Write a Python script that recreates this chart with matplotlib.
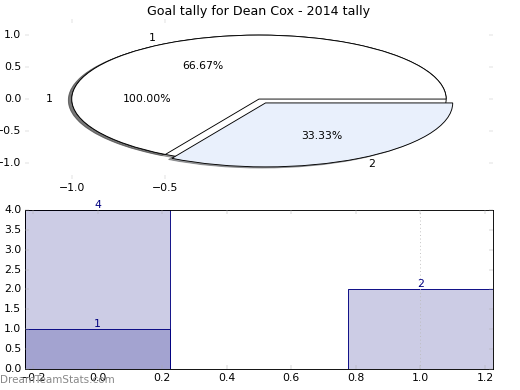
import matplotlib
matplotlib.use('Agg')
import matplotlib.pyplot as plt

plt.style.use('classic')

# Pie data
total_values = [1]
total_labels = ['1']
split_values = [2, 1]
split_labels = ['1', '2']
split_explode = [0, 0.07]

# Bar data
bar_x = [0, 1]
bar_heights = [4, 2]
bar_inner_x = [0]
bar_inner_heights = [1]

title = 'Goal tally for Dean Cox - 2014 tally'

fig = plt.figure(figsize=(8, 6), dpi=65)
fig.patch.set_facecolor('white')

# Top: pie chart (not square, like old matplotlib)
ax1 = fig.add_axes([0.048, 0.541, 0.9, 0.41])
ax1.pie(total_values, labels=total_labels, autopct='%.2f%%', shadow=True,
        colors=['white'])
ax1.pie(split_values, labels=split_labels, autopct='%.2f%%', shadow=True,
        explode=split_explode, colors=['white', '#e9f0fc'])
ax1.set_aspect('auto')
ax1.set_xlim(-1.25, 1.25)
ax1.set_ylim(-1.25, 1.25)
ax1.set_frame_on(False)
ax1.set_xticks([-1.0, -0.5])
ax1.set_yticks([-1.0, -0.5, 0.0, 0.5, 1.0])
ax1.tick_params(color='#c0c0c0', labelsize=12)
ax1.set_title(title, fontsize=14)

# Bottom: bar chart
ax2 = fig.add_axes([0.048, 0.054, 0.9, 0.4075])
ax2.bar(bar_x, bar_heights, width=0.45, align='center', color='navy',
        alpha=0.2, edgecolor='none')
ax2.bar(bar_x, bar_heights, width=0.45, align='center', fill=False,
        edgecolor='navy')
ax2.bar(bar_inner_x, bar_inner_heights, width=0.45, align='center',
        color='navy', alpha=0.2, edgecolor='none')
ax2.bar(bar_inner_x, bar_inner_heights, width=0.45, align='center',
        fill=False, edgecolor='navy')
for x, h in zip(bar_x + bar_inner_x, bar_heights + bar_inner_heights):
    ax2.text(x, h, str(h), ha='center', va='bottom', color='navy', fontsize=12)
ax2.axvline(1.0, color='#bbbbbb', linestyle=':')
ax2.set_xlim(-0.225, 1.225)
ax2.set_ylim(0, 4)
ax2.set_yticks([0, 0.5, 1.0, 1.5, 2.0, 2.5, 3.0, 3.5, 4.0])
ax2.set_xticks([-0.2, 0.0, 0.2, 0.4, 0.6, 0.8, 1.0, 1.2])
ax2.tick_params(color='#aaaaaa', labelsize=12)

fig.text(0.0, 0.025, 'DreamTeamStats.com', color='#888888', fontsize=11.5,
         ha='left', va='center')

fig.savefig('out.png', dpi=65, facecolor='white')
